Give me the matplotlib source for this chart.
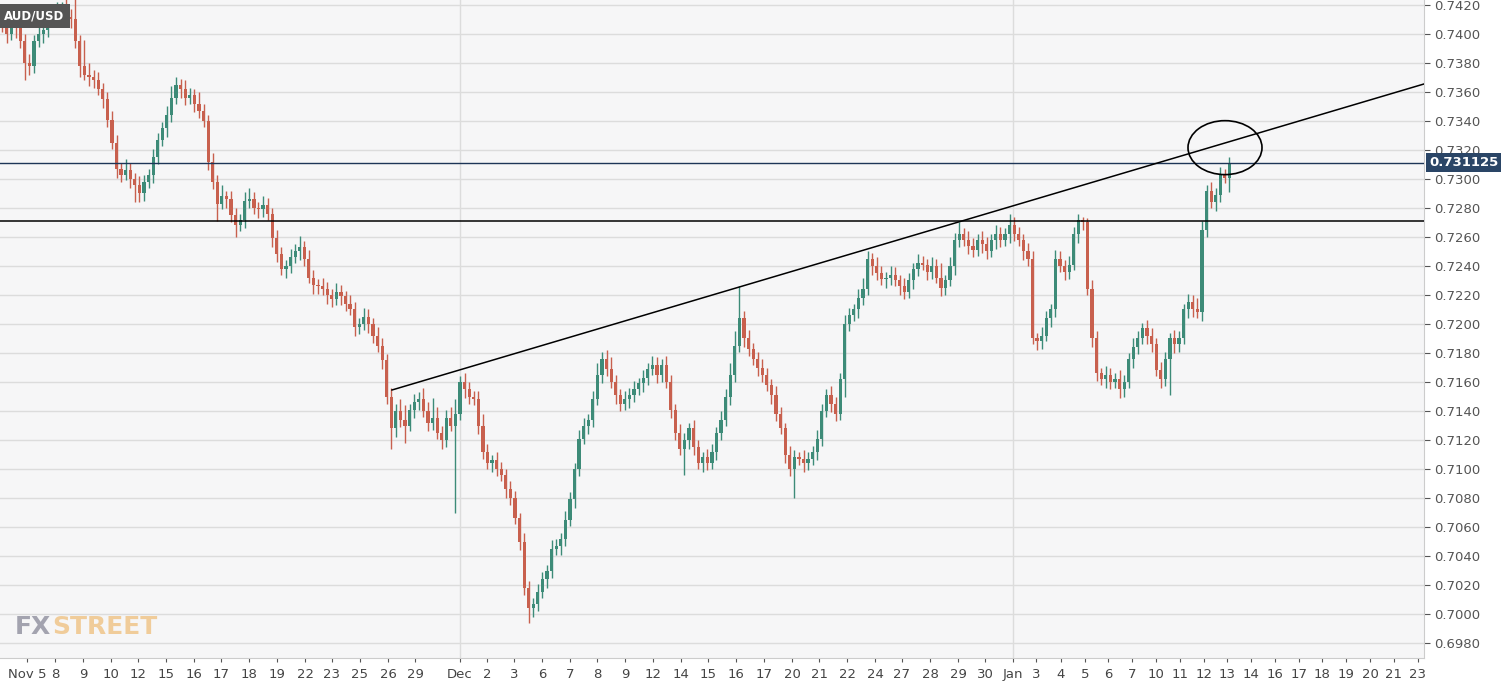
import matplotlib
matplotlib.use("Agg")
import matplotlib.pyplot as plt
from matplotlib.patches import Ellipse
import numpy as np

# closes in pips above 0.7000
closes = [406,400,410,405,395,380,378,395,400,403,410,412,416,418,412,410,395,378,372,370,
          368,362,355,341,325,307,303,306,300,296,290,298,303,315,327,335,344,356,365,362,
          356,358,352,347,340,312,298,283,288,286,275,268,272,285,286,280,279,282,276,259,
          248,238,240,246,250,253,245,232,227,226,224,220,217,222,219,214,210,198,200,205,
          200,192,185,175,150,128,140,134,130,141,146,148,140,132,135,125,120,135,130,138,
          160,155,150,148,130,112,104,106,100,96,86,80,66,50,18,4,7,15,24,30,
          45,47,52,65,79,100,121,130,134,148,165,176,169,160,151,145,148,151,155,159,
          163,169,172,165,172,160,141,125,114,120,128,115,104,108,104,112,125,134,150,165,
          185,204,190,183,176,170,165,158,151,138,128,110,100,108,107,104,107,112,121,140,
          151,145,138,162,200,206,210,218,224,245,240,235,231,232,234,230,226,222,230,238,
          242,241,236,240,232,225,230,240,258,262,258,254,251,258,255,250,258,262,258,262,
          268,262,258,250,245,190,188,192,204,210,245,240,236,241,262,272,270,224,190,166,
          162,165,160,162,155,160,176,184,190,197,192,186,168,162,176,190,186,190,210,215,
          210,208,265,292,284,289,303,301,311]
open0 = 412
upper = [6,5,8,4,6,5,6,4,5,6,5,8,6,4,6,5,20,4,18,8,
         5,6,4,5,6,5,4,8,5,4,6,5,4,6,5,4,6,8,5,4,
         6,5,4,8,5,4,6,5,8,4,6,5,4,6,8,5,4,6,5,4,
         6,5,4,6,5,8,4,6,5,4,6,5,4,6,5,4,6,5,4,6,
         5,4,6,5,4,6,5,8,10,4,6,5,8,6,14,8,5,6,8,10,
         4,6,5,4,6,8,5,4,6,5,4,6,5,4,6,5,4,6,5,4,
         6,5,4,6,5,4,6,5,4,6,8,5,6,8,5,4,6,5,6,4,
         5,4,6,5,4,6,5,4,6,5,4,6,5,4,6,5,4,6,5,8,
         10,22,5,6,4,5,6,5,4,6,5,4,6,5,4,6,5,4,6,5,
         4,6,5,4,6,5,4,6,8,5,4,6,5,4,6,5,4,6,5,4,
         6,5,4,6,5,10,4,6,5,8,4,6,5,4,6,5,4,6,5,4,
         8,6,5,4,6,5,4,6,5,4,6,5,4,6,5,4,2,3,6,5,
         4,6,5,4,6,5,4,6,5,4,6,5,4,6,5,4,6,5,4,6,
         5,8,6,4,6,5,5,4,4]
lower = [5,6,4,8,5,12,6,5,4,6,5,4,6,5,4,6,5,8,4,6,
         5,4,6,5,4,6,5,4,6,12,6,5,4,6,5,4,6,5,4,6,
         5,4,6,5,4,6,5,12,4,6,5,8,4,6,5,4,6,5,4,6,
         5,4,6,5,4,6,5,4,6,5,4,6,5,4,6,5,4,6,5,4,
         6,5,4,6,5,14,6,5,12,4,6,5,4,6,5,4,6,5,4,60,
         4,6,5,4,6,5,4,6,5,4,6,5,4,6,5,10,6,5,4,6,
         5,4,6,5,4,6,5,4,6,5,4,6,5,4,6,5,4,6,5,4,
         6,5,4,6,5,4,6,5,4,18,6,5,4,6,5,4,6,5,4,6,
         5,4,6,5,4,6,5,4,6,5,4,6,5,20,4,6,5,4,6,5,
         4,6,5,4,12,5,4,6,5,4,6,5,4,6,5,4,6,5,4,6,
         5,4,6,5,4,6,5,4,6,5,4,6,5,4,6,5,4,6,5,4,
         6,5,4,6,5,4,6,5,4,6,5,4,6,5,4,6,5,4,6,5,
         4,6,5,4,6,5,4,6,5,4,6,5,4,6,5,25,6,5,4,6,
         5,4,6,5,4,6,5,4,10]
tick_labels = ["Nov 5","8","9","10","12","15","16","17","18","19","22","23","25","26","29",
               "Dec","2","3","6","7","8","9","12","14","15","16","17","20","21","22","24",
               "27","28","29","30","Jan","3","4","5","6","7","10","11","12","13","14","16",
               "17","18","19","20","21","23"]
tick_px = [27,55,83,111,138,166,194,221,249,277,305,332,360,388,415,
           460,487,514,542,570,597,625,653,681,708,736,764,792,819,847,875,
           902,930,958,985,1013,1036,1061,1085,1108,1132,1156,1180,1204,1227,1251,1275,
           1299,1322,1346,1370,1394,1418]
last_price = 0.731125
support = 0.7271
trend_start = (392, 0.71545)
trend_end = (1424, 0.73655)

W, H = 1501, 684
fig = plt.figure(figsize=(W/100, H/100), dpi=100)
fig.patch.set_facecolor("white")
ax = fig.add_axes([0, 26/H, 1424/W, 1-26/H])
ax.set_facecolor("#f6f6f7")

c = np.array(closes)/10000 + 0.7
o = np.concatenate([[open0/10000 + 0.7], c[:-1]])
hi = np.maximum(o, c) + np.array(upper[:len(c)])/10000
lo = np.minimum(o, c) - np.array(lower[:len(c)])/10000
step = 4.58
x = np.arange(len(c))*step + 2
green, red = "#3d8b78", "#c8604e"
cols = [green if cc >= oo else red for oo, cc in zip(o, c)]
ax.vlines(x, lo, hi, colors=cols, linewidth=1, zorder=3)
body = np.abs(c-o)
body = np.where(body < 0.00008, 0.00008, body)
ax.bar(x, body, bottom=np.minimum(o, c), width=3.2, color=cols, zorder=4, linewidth=0)

ax.set_xlim(0, 1424)
ax.set_ylim(0.69697, 0.74234)
yt = np.arange(0.6980, 0.7421, 0.002)
ax.set_yticks(yt)
ax.set_yticklabels([f"{v:.4f}" for v in yt])
ax.yaxis.tick_right()
ax.tick_params(axis="y", colors="#555555", labelsize=9.5, length=4, pad=3)
ax.tick_params(axis="x", colors="#555555", labelsize=9.5, length=3, pad=4)
ax.set_xticks(tick_px)
ax.set_xticklabels(tick_labels)
for t in ax.get_xticklabels():
    t.set_color("#444444")
ax.grid(axis="y", color="#dcdcdc", linewidth=1)
for px in (460, 1013):
    ax.axvline(px, color="#dcdcdc", linewidth=1, zorder=1)
for s in ("top", "left"):
    ax.spines[s].set_visible(False)
ax.spines["right"].set_color("#cccccc")
ax.spines["bottom"].set_color("#cccccc")

ax.axhline(last_price, color="#1d3557", linewidth=1, zorder=5)
ax.axhline(support, color="black", linewidth=1.1, zorder=5)
ax.plot([trend_start[0], trend_end[0]], [trend_start[1], trend_end[1]], color="black", lw=1.1, zorder=5)
ax.add_patch(Ellipse((1225, 0.73216), 74, 0.00372, fill=False, edgecolor="black", lw=1.2, zorder=6))

ax.text(1.004, (last_price-0.69697)/(0.74234-0.69697), f"{last_price:.6f}", transform=ax.transAxes,
        va="center", ha="left", color="white", fontsize=9.5, fontweight="bold",
        bbox=dict(boxstyle="square,pad=0.25", fc="#2a4566", ec="none"), zorder=10, clip_on=False)
fig.text(4/W, 1-16/H, "AUD/USD", color="white", fontsize=8.5, fontweight="bold", va="center", ha="left",
         bbox=dict(boxstyle="square,pad=0.45", fc="#555555", ec="none"))
fx = fig.text(15/W, 1-627/H, "FX", color="#9a9aa8", fontsize=18, fontweight="bold", va="center", ha="left",
              alpha=0.9)
fig.canvas.draw()
ax.annotate("STREET", xy=(1.0, 0.5), xycoords=fx, xytext=(1, 0), textcoords="offset points",
            color="#f0c890", fontsize=18, fontweight="bold", va="center", ha="left", alpha=0.9)
fig.savefig("out.png", dpi=100)
